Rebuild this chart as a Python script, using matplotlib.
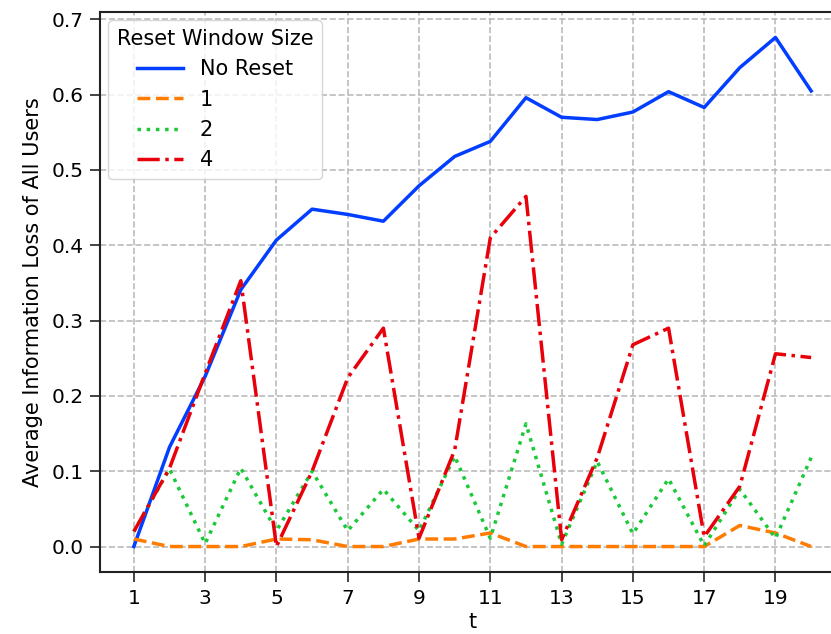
import matplotlib
matplotlib.use("Agg")
import matplotlib.pyplot as plt
import numpy as np

# time steps
t = list(range(1, 21))

# average information loss per reset window size
no_reset = [0.0, 0.132, 0.226, 0.341, 0.407, 0.448, 0.441, 0.432, 0.479, 0.518,
            0.538, 0.596, 0.570, 0.567, 0.577, 0.604, 0.583, 0.636, 0.676, 0.605]
win_1 = [0.010, 0.0, 0.0, 0.0, 0.010, 0.009, 0.0, 0.0, 0.010, 0.010,
         0.018, 0.0, 0.0, 0.0, 0.0, 0.0, 0.0, 0.028, 0.018, 0.0]
win_2 = [0.020, 0.103, 0.004, 0.104, 0.021, 0.100, 0.021, 0.076, 0.021, 0.120,
         0.011, 0.163, 0.003, 0.113, 0.017, 0.090, 0.001, 0.076, 0.011, 0.118]
win_4 = [0.020, 0.104, 0.230, 0.353, 0.0, 0.100, 0.224, 0.290, 0.011, 0.128,
         0.410, 0.465, 0.009, 0.118, 0.268, 0.290, 0.013, 0.080, 0.256, 0.251]

series_labels = ["No Reset", "1", "2", "4"]
colors = ["#023eff", "#ff7c00", "#1ac938", "#e8000b"]
styles = ["-", "--", ":", "-."]

fig = plt.figure(figsize=(8.31, 6.34), dpi=100)
ax = fig.add_axes([100 / 831, 1 - 572 / 634, 745 / 831, 560 / 634])

for vals, lab, c, ls in zip([no_reset, win_1, win_2, win_4], series_labels, colors, styles):
    ax.plot(t, vals, color=c, linestyle=ls, linewidth=2.5, label=lab)

ax.set_xticks(np.arange(1, 21, 2))
ax.set_yticks(np.arange(0, 0.71, 0.1))
ax.tick_params(labelsize=14.5, length=7, width=1.2, color="#222222", pad=5)
ax.grid(True, linestyle="--", color="#bbbbbb", linewidth=1.2)
ax.set_axisbelow(True)
for sp in ax.spines.values():
    sp.set_linewidth(1.5)
    sp.set_color("#222222")

ax.set_xlabel("t", fontsize=15, labelpad=3)
ax.set_ylabel("Average Information Loss of All Users", fontsize=15, labelpad=6)

leg = ax.legend(title="Reset Window Size", fontsize=15, title_fontsize=15,
                loc="upper left", handlelength=2.2, framealpha=0.8,
                borderaxespad=0.4)

fig.savefig("out.png", dpi=100)
